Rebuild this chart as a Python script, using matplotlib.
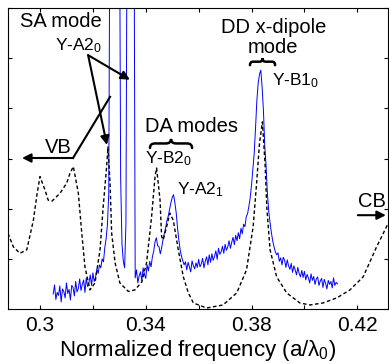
import numpy as np
import matplotlib
matplotlib.use("Agg")
import matplotlib.pyplot as plt
from matplotlib.path import Path
from matplotlib.patches import PathPatch

plt.rcParams['font.family'] = ['Liberation Sans', 'DejaVu Sans']
plt.rcParams['mathtext.fontset'] = 'custom'
plt.rcParams['mathtext.rm'] = 'Liberation Sans'
plt.rcParams['mathtext.it'] = 'Liberation Sans:italic'
plt.rcParams['mathtext.default'] = 'regular'

# measured transmission (blue), sampled every 0.0005 from 0.305 to 0.4125
meas_freq = np.linspace(0.305, 0.4125, 216)
meas_val = [
    0.30, 0.48, 0.19, 0.33, 0.27, 0.46, 0.14, 0.40, 0.35, 0.22,
    0.52, 0.31, 0.39, 0.18, 0.47, 0.43, 0.26, 0.55, 0.34, 0.41,
    0.60, 0.37, 0.49, 0.58, 0.33, 0.62, 0.45, 0.52, 0.68, 0.47,
    0.72, 0.55, 0.63, 0.80, 0.71, 0.88, 0.82, 1.00, 0.94, 1.22,
    1.40, 1.68, 2.30,
    9.0, 9.0, 9.0, 9.0, 9.0, 9.0, 9.0, 9.0,
    2.60, 1.30, 0.95, 0.82, 1.70,
    9.0, 9.0, 9.0, 9.0, 9.0, 9.0,
    0.62, 0.78, 0.52, 0.66, 0.74, 0.57, 0.82, 0.69, 0.61, 0.88,
    0.76, 0.95, 0.84, 1.04, 1.15, 1.34, 1.42, 1.26, 1.24, 1.10,
    1.22, 1.38, 1.50, 1.62, 1.76, 1.85, 1.98, 2.12, 2.22, 2.28,
    2.12, 1.92, 1.62, 1.38, 1.18, 1.05, 0.96, 0.88, 0.94,
    0.78, 0.93, 0.84, 0.74, 0.96, 0.86, 0.80, 0.92, 0.83,
    0.99, 0.84, 0.90, 1.01, 0.82, 0.95, 1.04, 0.88, 1.08, 0.93,
    1.10, 0.97, 1.05, 1.16, 0.99, 1.21, 1.09, 1.14, 1.25, 1.11,
    1.29, 1.17, 1.24, 1.36, 1.21, 1.33, 1.43, 1.28, 1.47, 1.36,
    1.52, 1.40, 1.61, 1.50, 1.69, 1.64, 1.84, 1.90,
    2.05, 2.22, 2.48, 2.78, 3.10, 3.60, 4.15, 4.50, 4.68, 4.76,
    4.42, 3.95, 3.25, 2.85, 2.30, 1.95, 1.72, 1.52, 1.36, 1.24,
    1.14, 1.08,
    1.12, 0.95, 1.02, 0.88, 1.03, 0.97, 0.83, 0.98, 0.86, 0.79,
    0.91, 0.73, 0.86, 0.78, 0.68, 0.83, 0.71, 0.64, 0.77, 0.63,
    0.75, 0.58, 0.69, 0.62, 0.52, 0.70, 0.57, 0.65, 0.49, 0.60,
    0.64, 0.47, 0.56, 0.61, 0.43, 0.59, 0.51, 0.40, 0.57, 0.49,
    0.55, 0.42, 0.62, 0.47, 0.53, 0.50,
]

# calculated spectrum (dashed)
calc_freq = [
    0.2879, 0.2899, 0.2924, 0.2950, 0.2975, 0.2989, 0.3000, 0.3019, 0.3031, 0.3045,
    0.3057, 0.3076, 0.3101, 0.3113, 0.3126, 0.3145, 0.3158, 0.3170, 0.3189, 0.3208,
    0.3227, 0.3239, 0.3252, 0.3257, 0.3265, 0.3271, 0.3284, 0.3302, 0.3334, 0.3359,
    0.3385, 0.3403, 0.3422, 0.3435, 0.3441, 0.3454, 0.3460, 0.3466, 0.3479, 0.3491,
    0.3504, 0.3523, 0.3542, 0.3561, 0.3580, 0.3630, 0.3692, 0.3744, 0.3781, 0.3806,
    0.3819, 0.3830, 0.3841, 0.3851, 0.3858, 0.3870, 0.3895, 0.3933, 0.3983, 0.4021,
    0.4070, 0.4122, 0.4172, 0.4222, 0.4273, 0.4316,
]
calc_val = [
    1.51, 1.24, 1.11, 1.18, 1.77, 2.30, 2.64, 2.37, 2.17, 2.15,
    2.21, 2.31, 2.51, 2.70, 2.84, 2.31, 1.51, 0.84, 0.38, 0.52,
    1.18, 2.04, 2.84, 3.23, 2.50, 1.51, 0.92, 0.52, 0.35, 0.38,
    0.54, 0.92, 1.84, 2.64, 2.81, 2.17, 1.44, 1.38, 1.64, 1.91,
    1.77, 1.18, 0.64, 0.32, 0.12, 0.02, 0.08, 0.32, 0.78, 1.64,
    2.50, 3.30, 3.73, 2.90, 2.00, 1.18, 0.64, 0.32, 0.12, 0.08,
    0.12, 0.22, 0.38, 0.64, 1.24, 1.70,
]

xtick_pos = [0.30, 0.32, 0.34, 0.36, 0.38, 0.40, 0.42]
xtick_lab = ['0.3', '', '0.34', '', '0.38', '', '0.42']


def brace(ax, x0, x1, yb, h):
    xm = (x0 + x1) / 2
    d = (x1 - x0) * 0.12
    verts = [(x0, yb - h), (x0, yb), (x0 + d, yb), (xm - d, yb),
             (xm, yb), (xm, yb + h), (xm, yb), (xm + d, yb),
             (x1 - d, yb), (x1, yb), (x1, yb - h)]
    codes = [Path.MOVETO, Path.CURVE3, Path.CURVE3, Path.LINETO,
             Path.CURVE3, Path.CURVE3, Path.CURVE3, Path.CURVE3,
             Path.LINETO, Path.CURVE3, Path.CURVE3]
    ax.add_patch(PathPatch(Path(verts, codes), fill=False, lw=1.8,
                           color='k', capstyle='round'))


fig = plt.figure(figsize=(3.89, 3.64), dpi=100)
ax = fig.add_axes([8 / 389, 1 - 309 / 364, 380 / 389, 301 / 364])

ax.plot(meas_freq, meas_val, color='#0000ff', lw=0.7)
ax.plot(calc_freq, calc_val, color='k', lw=1.0, linestyle=(0, (2.6, 1.8)))

ax.set_xlim(0.2879, 0.4316)
ax.set_ylim(0, 6)
ax.set_xticks(xtick_pos)
ax.set_xticklabels(xtick_lab)
ax.set_yticks(range(7))
ax.set_yticklabels([])
ax.tick_params(direction='in', top=True, right=True, length=3, width=0.8,
               labelsize=15, pad=5)
ax.set_xlabel('Normalized frequency (a/λ$_0$)', fontsize=16, labelpad=2)

arrow = dict(arrowstyle='-|>', lw=1.5, color='k', mutation_scale=13,
             shrinkA=0, shrinkB=0)

# SA mode
ax.text(0.2924, 5.63, 'SA mode', fontsize=14.5)
ax.text(0.3057, 5.16, 'Y-A2$_0$', fontsize=12.5)
ax.annotate('', xy=(0.3340, 4.57), xytext=(0.3182, 5.06), arrowprops=arrow)
ax.annotate('', xy=(0.3253, 3.27), xytext=(0.3182, 5.06), arrowprops=arrow)

# valence band
ax.plot([0.3265, 0.3125], [4.23, 3.01], color='k', lw=1.5)
ax.annotate('', xy=(0.2932, 3.01), xytext=(0.3125, 3.01), arrowprops=arrow)
ax.text(0.3019, 3.11, 'VB', fontsize=14.5)

# DA modes
ax.text(0.3397, 3.53, 'DA modes', fontsize=14.5)
brace(ax, 0.3416, 0.3575, 3.30, 0.09)
ax.text(0.3397, 2.91, 'Y-B2$_0$', fontsize=12.5)
ax.text(0.3518, 2.29, 'Y-A2$_1$', fontsize=12.5)

# DD mode
ax.text(0.3883, 5.50, 'DD x-dipole', fontsize=14.5, ha='center')
ax.text(0.3879, 5.10, 'mode', fontsize=14.5, ha='center')
brace(ax, 0.3794, 0.3889, 4.93, 0.07)
ax.text(0.3877, 4.45, 'Y-B1$_0$', fontsize=12.5)

# conduction band
ax.text(0.4202, 2.03, 'CB', fontsize=14.5)
ax.annotate('', xy=(0.4308, 1.87), xytext=(0.4202, 1.87), arrowprops=arrow)

fig.savefig('out.png', dpi=100)
